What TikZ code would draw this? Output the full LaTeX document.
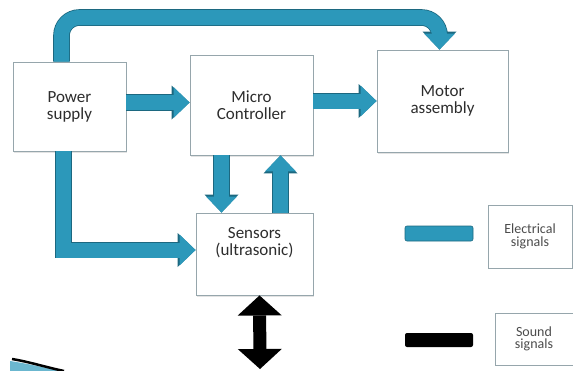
\documentclass[tikz,border=0pt]{standalone}
\usepackage{fontspec}
\setmainfont{Carlito}
\definecolor{tealfill}{RGB}{44,152,186}
\definecolor{tealdark}{RGB}{28,104,128}
\definecolor{boxgray}{RGB}{150,166,172}
\definecolor{textgray}{RGB}{45,45,45}
\usetikzlibrary{calc, positioning, arrows.meta, shadows}

\tikzset{
  block/.style={draw=boxgray, line width=0.9pt, fill=white, align=center, inner sep=0pt,
    text=textgray, font=\fontsize{17}{17}\selectfont,
    drop shadow={shadow xshift=1pt, shadow yshift=-1.5pt, fill=black!22}},
  legendbox/.style={draw=boxgray, line width=0.8pt, fill=white, align=center, inner sep=0pt,
    text=textgray!85, font=\fontsize{14}{12.5}\selectfont},
  elec/.style={tealfill, line width=15pt, -{Triangle[length=16pt, width=31pt, line width=0pt]},
    preaction={draw=tealdark, line width=16.6pt, -{Triangle[length=18pt, width=34pt, line width=0pt]}}},
  sound/.style={black, line width=13pt,
    {Triangle[length=20pt, width=44pt, line width=0pt]}-{Triangle[length=20pt, width=44pt, line width=0pt]}},
}

\begin{document}
\begin{tikzpicture}[x=1pt, y=-1pt]
\useasboundingbox (0,0) rectangle (573,370);

% --- Blocks ---
\node[block, minimum width=113pt, minimum height=89pt] (power) at (69.5, 106.5) {Power\\supply};
\node[block, minimum width=123pt, minimum height=100pt] (micro) at (251.5, 105) {Micro\\Controller};
\node[block, minimum width=131pt, minimum height=102pt] (motor) at (442.5, 101) {Motor\\assembly};
\node[block, minimum width=117pt, minimum height=82pt, text depth=26pt] (sensors) at (254.5, 254) {Sensors\\(ultrasonic)};

% --- Legend ---
\node[legendbox, minimum width=84pt, minimum height=63pt] (legelec) at (530, 236.5) {Electrical\\signals};
\node[legendbox, minimum width=78pt, minimum height=52pt] (legsound) at (534, 339) {Sound\\signals};
\fill[tealfill, draw=tealdark, line width=0.6pt, rounded corners=2pt] (405, 226) rectangle (473, 241);
\fill[black, rounded corners=2pt] (405, 333) rectangle (473, 347);

% --- Electrical links ---
\coordinate (loop) at (0, 17.5);
\draw[elec, rounded corners=18pt] ([xshift=-8pt]power.north) |- ([xshift=-3pt]motor.north |- loop) -- ([xshift=-3pt]motor.north);
\draw[elec] ([yshift=4pt]power.east) -- ([yshift=4pt]power.east -| micro.west);
\draw[elec] (micro.east |- motor.west) -- (motor.west);
\draw[elec] ([xshift=-30pt]micro.south) -- ([xshift=-30pt]micro.south |- sensors.north);
\draw[elec] ([xshift=29pt]micro.south |- sensors.north) -- ([xshift=29pt]micro.south);
\draw[elec] ([xshift=-6pt]power.south) |- ([yshift=4pt]sensors.west);

% --- Sound link ---
\coordinate (echo) at (260, 369);
\draw[sound] ([xshift=5pt]sensors.south) -- (echo);

% --- Slide swoosh ---
\fill[tealfill!70] (10, 361) .. controls (30, 364) and (45, 368) .. (62, 371) -- (10, 371) -- cycle;
\draw[black, line width=2.5pt] (12, 359) .. controls (30, 362) and (45, 367) .. (64, 371);

\end{tikzpicture}
\end{document}
